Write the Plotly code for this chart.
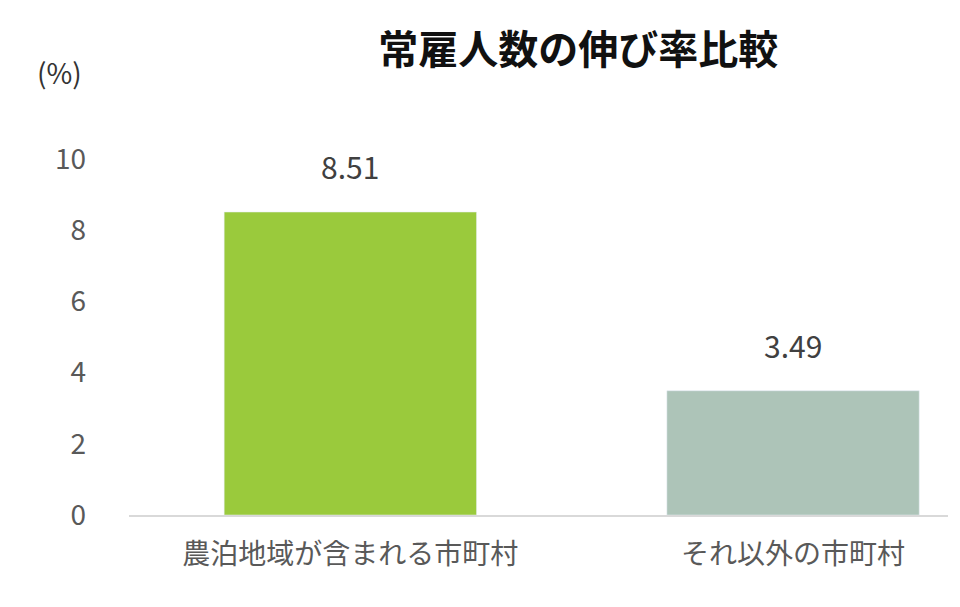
import plotly.graph_objects as go

categories = ["農泊地域が含まれる市町村", "それ以外の市町村"]
values = [8.51, 3.49]
colors = ["#9ACA3C", "#ADC4B8"]
tick_vals = [0, 2, 4, 6, 8, 10]

fig = go.Figure(go.Bar(
    x=categories, y=values, marker_color=colors, cliponaxis=False,
))
ann = [dict(x=c, y=v, text=f"{v:.2f}", showarrow=False, yanchor="bottom", yshift=22,
            font=dict(size=30, color="#404040")) for c, v in zip(categories, values)]
ann.append(dict(text="(%)", xref="paper", yref="paper", x=-0.085, y=1.245,
                xanchor="center", yanchor="middle", showarrow=False,
                font=dict(size=28, color="#333333")))
fig.update_layout(
    width=960, height=607,
    margin=dict(l=121, r=20, t=151, b=100),
    paper_bgcolor="white", plot_bgcolor="white",
    font=dict(family="Noto Sans CJK JP", color="#595959"),
    bargap=0.43,
    title=dict(text="<b>常雇人数の伸び率比較</b>", x=0.594, xanchor="center",
               y=0.93, yanchor="middle", font=dict(size=40, color="#111111")),
    annotations=ann,
    showlegend=False,
)
fig.update_yaxes(range=[0, 10], tickvals=tick_vals, showgrid=False, zeroline=False,
                 showline=False, tickfont=dict(size=28, color="#595959"),
                 ticks="", ticklabelstandoff=42)
fig.update_xaxes(range=[-0.5, 1.35], showline=True, linecolor="#D9D9D9", linewidth=1.5,
                 tickfont=dict(size=28, color="#595959"), ticks="", ticklabelstandoff=14)
fig.write_html("out.html")
